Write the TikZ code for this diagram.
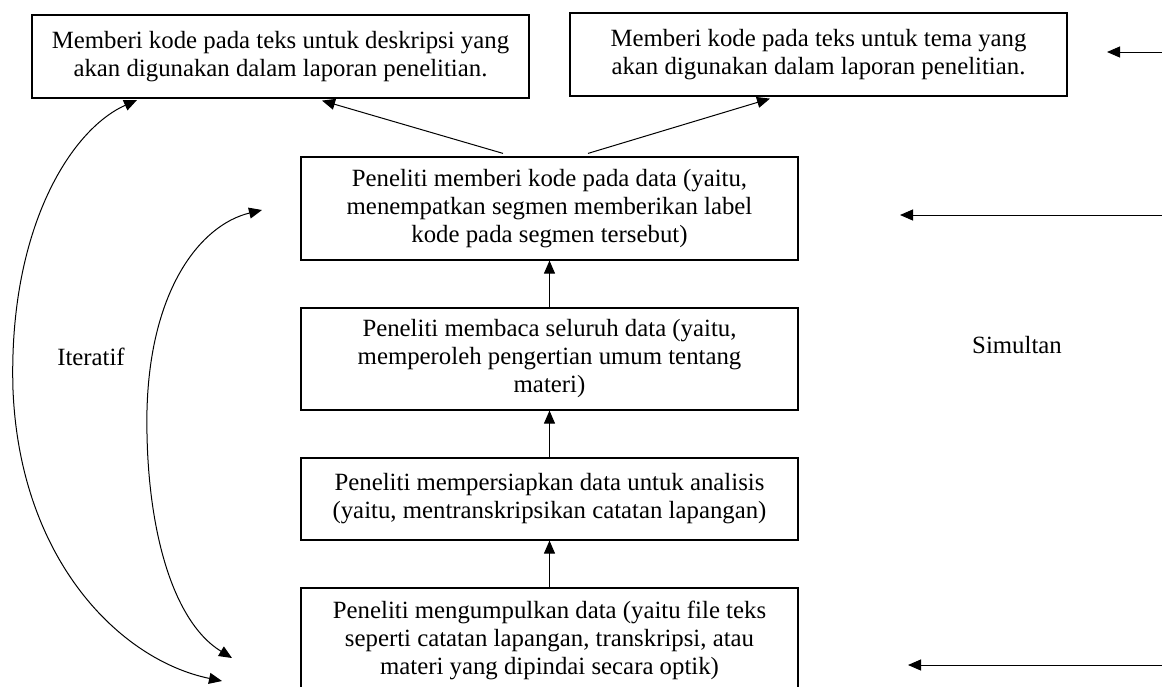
\documentclass[tikz,border=0pt]{standalone}
\usepackage{fontspec}
\setmainfont{Liberation Serif}
\usetikzlibrary{arrows.meta,calc}

\begin{document}
\begin{tikzpicture}[x=0.5pt, y=-0.5pt, line width=0.5pt, >={Triangle[length=6.5pt,width=5.5pt]}]

        \tikzstyle{every node}=[font=\fontsize{12.4}{14}\selectfont, align=center]
        \tikzstyle{kotak}=[draw, rectangle, line width=0.6pt, minimum width=248.5pt, inner sep=0pt]

        \useasboundingbox (0,0) rectangle (1162,686);
        \clip (0,0) rectangle (1162,686);

        \node[kotak, minimum height=41.5pt] (kodeDesk) at (280.5, 56.5) {Memberi kode pada teks untuk deskripsi yang\\ akan digunakan dalam laporan penelitian.};
        \node[kotak, minimum height=41.5pt] (kodeTema) at (818.5, 54.5) {Memberi kode pada teks untuk tema yang\\ akan digunakan dalam laporan penelitian.};

        \node[kotak, minimum height=51.5pt] (beriKode) at (549.5, 208.5) {Peneliti memberi kode pada data (yaitu,\\ menempatkan segmen memberikan label\\ kode pada segmen tersebut)};
        \node[kotak, minimum height=51pt] (baca) at (549.5, 359) {Peneliti membaca seluruh data (yaitu,\\ memperoleh pengertian umum tentang\\ materi)};
        \node[kotak, minimum height=41pt] (siapkan) at (549.5, 499) {Peneliti mempersiapkan data untuk analisis\\ (yaitu, mentranskripsikan catatan lapangan)};
        \node[kotak, minimum height=52pt] (kumpul) at (549.5, 640) {Peneliti mengumpulkan data (yaitu file teks\\ seperti catatan lapangan, transkripsi, atau\\ materi yang dipindai secara optik)};

        \foreach \a/\b in {kumpul/siapkan, siapkan/baca, baca/beriKode} {
            \draw[->] (\a) -- (\b);
        }

        \draw[->] ($(beriKode.north)+(-46.5,-3)$) -- ($(kodeDesk.south)+(41.5,2)$);
        \draw[->] ($(beriKode.north)+(38.5,-3)$) -- ($(kodeTema.south)+(-48.5,2)$);

        % iteratif
        \coordinate (luarAtas) at (137,100);
        \coordinate (luarBawah) at (222,681);
        \coordinate (dalamAtas) at (262,210);
        \coordinate (dalamBawah) at (232,658);
        \draw[<->] (luarBawah) .. controls (120,660) and (20,560) .. (13,390) .. controls (8,230) and (70,130) .. (luarAtas);
        \draw[<->] (dalamBawah) .. controls (170,620) and (145,520) .. (147,410) .. controls (150,290) and (200,225) .. (dalamAtas);
        \node (iteratif) at (91,357) {Iteratif};

        % simultan
        \foreach \k/\y/\ujung in {a/52/1107, b/215/900, c/665/908} {
            \coordinate (kanan\k) at (1162,\y);
            \coordinate (ujung\k) at (\ujung,\y);
            \draw[->] (kanan\k) -- (ujung\k);
        }
        \node (simultan) at (1017,345) {Simultan};

    \end{tikzpicture}
\end{document}
